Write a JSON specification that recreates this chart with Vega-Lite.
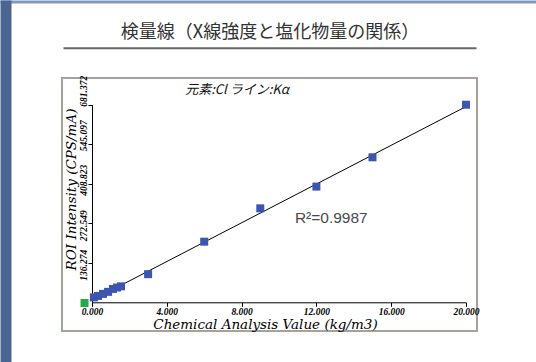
{
  "$schema": "https://vega.github.io/schema/vega-lite/v6.json",
  "autosize": "none",
  "width": 415,
  "height": 253,
  "padding": {"left": 62, "top": 78, "right": 59, "bottom": 31},
  "background": "white",
  "config": {
    "view": {"stroke": "#a6a29a", "strokeWidth": 2},
    "axis": {"grid": false}
  },
  "datasets": {
    "standards": [
      {"conc": 0.1, "intensity": 17},
      {"conc": 0.32, "intensity": 22},
      {"conc": 0.59, "intensity": 29},
      {"conc": 0.86, "intensity": 36},
      {"conc": 1.12, "intensity": 46},
      {"conc": 1.34, "intensity": 51},
      {"conc": 1.55, "intensity": 55},
      {"conc": 3, "intensity": 97},
      {"conc": 6, "intensity": 209},
      {"conc": 9, "intensity": 324},
      {"conc": 12, "intensity": 399},
      {"conc": 15, "intensity": 500},
      {"conc": 20, "intensity": 681.372}
    ],
    "blank": [
      {"conc": -0.4, "intensity": -2.5}
    ],
    "fit": [
      {"conc": 0, "intensity": 7},
      {"conc": 20, "intensity": 675}
    ],
    "fitNote": [
      {"conc": 10.85, "intensity": 291, "label": "R²=0.9987"}
    ]
  },
  "layer": [
    {
      "layer": [
        {
          "data": {"name": "fit"},
          "mark": {"type": "line", "color": "#000000", "strokeWidth": 1},
          "encoding": {
            "x": {
              "field": "conc",
              "type": "quantitative",
              "scale": {"domain": [0, 20], "range": [30, 404], "nice": false, "zero": false},
              "axis": {
                "orient": "bottom",
                "offset": -28.7,
                "values": [0, 4, 8, 12, 16, 20],
                "format": ".3f",
                "domainColor": "#000000",
                "domainWidth": 1,
                "tickColor": "#000000",
                "tickSize": 4,
                "labelFlush": false,
                "labelOverlap": false,
                "labelFont": "Liberation Serif",
                "labelFontSize": 9.5,
                "labelFontStyle": "italic",
                "labelFontWeight": "bold",
                "labelColor": "#000000",
                "labelPadding": 0,
                "title": "Chemical Analysis Value (kg/m3)",
                "titleFont": "DejaVu Serif",
                "titleFontSize": 13.5,
                "titleFontStyle": "italic",
                "titleFontWeight": "normal",
                "titleColor": "#000000",
                "titleX": 203,
                "titleY": 22.5,
                "titleAlign": "center",
                "titleBaseline": "middle"
              }
            },
            "y": {
              "field": "intensity",
              "type": "quantitative",
              "scale": {"domain": [0, 681.372], "range": [224.3, 26.7], "nice": false, "zero": false},
              "axis": {
                "orient": "left",
                "offset": -30,
                "values": [136.274, 272.549, 408.823, 545.097, 681.372],
                "format": ".3f",
                "domainColor": "#000000",
                "domainWidth": 1,
                "tickColor": "#000000",
                "tickSize": 4,
                "labelFlush": false,
                "labelOverlap": false,
                "labelAngle": -90,
                "labelAlign": "center",
                "labelBaseline": "alphabetic",
                "labelOffset": {
                  "condition": [
                    {"test": "datum.value > 600", "value": -14},
                    {"test": "datum.value > 500", "value": -9},
                    {"test": "datum.value > 400", "value": -4}
                  ],
                  "value": 2
                },
                "labelFont": "Liberation Serif",
                "labelFontSize": 9.5,
                "labelFontStyle": "italic",
                "labelFontWeight": "bold",
                "labelColor": "#000000",
                "labelPadding": 2,
                "title": "ROI Intensity (CPS/mA)",
                "titleFont": "DejaVu Serif",
                "titleFontSize": 13.5,
                "titleFontStyle": "italic",
                "titleFontWeight": "normal",
                "titleColor": "#000000",
                "titleAngle": -90,
                "titleX": -21,
                "titleY": 111,
                "titleAlign": "center",
                "titleBaseline": "middle"
              }
            }
          }
        },
        {
          "data": {"name": "standards"},
          "mark": {"type": "square", "size": 64, "opacity": 1, "color": "#3c56ae"},
          "encoding": {
            "x": {"field": "conc", "type": "quantitative"},
            "y": {"field": "intensity", "type": "quantitative"}
          }
        },
        {
          "data": {"name": "blank"},
          "mark": {"type": "square", "size": 64, "opacity": 1, "color": "#22ad4a"},
          "encoding": {
            "x": {"field": "conc", "type": "quantitative"},
            "y": {"field": "intensity", "type": "quantitative"}
          }
        },
        {
          "data": {"name": "fitNote"},
          "mark": {"type": "text", "align": "left", "baseline": "middle", "font": "Liberation Sans", "fontSize": 15.5, "color": "#4a4a4a"},
          "encoding": {
            "x": {"field": "conc", "type": "quantitative"},
            "y": {"field": "intensity", "type": "quantitative"},
            "text": {"field": "label"}
          }
        }
      ]
    },
    {
      "data": {"values": []},
      "mark": {"type": "point", "opacity": 0},
      "encoding": {
        "x": {
          "field": "u",
          "type": "quantitative",
          "scale": {"domain": [0, 1], "range": [1, 414]},
          "axis": {
            "orient": "top",
            "offset": 30.3,
            "domainColor": "#666666",
            "domainWidth": 2,
            "ticks": false,
            "labels": false,
            "grid": false,
            "title": "検量線（X線強度と塩化物量の関係）",
            "titleFont": "Noto Sans CJK JP",
            "titleFontSize": 18,
            "titleFontWeight": "normal",
            "titleColor": "#333333",
            "titlePadding": 6
          }
        },
        "y": {
          "field": "v",
          "type": "quantitative",
          "scale": {"domain": [0, 1], "range": [284, -78]},
          "axis": {
            "orient": "left",
            "offset": 56.5,
            "domainColor": "#4b6591",
            "domainWidth": 11,
            "ticks": false,
            "labels": false,
            "grid": false,
            "title": "元素:Cl ライン:Kα",
            "titleAngle": 0,
            "titleX": 231,
            "titleY": 11,
            "titleAlign": "center",
            "titleBaseline": "middle",
            "titleFont": "Noto Sans CJK JP",
            "titleFontSize": 13,
            "titleFontStyle": "italic",
            "titleFontWeight": "normal",
            "titleColor": "#111111"
          }
        }
      }
    },
    {
      "data": {"values": []},
      "mark": {"type": "point", "opacity": 0},
      "encoding": {
        "x": {
          "field": "w",
          "type": "quantitative",
          "scale": {"domain": [0, 1], "range": [-62, 474]},
          "axis": {
            "orient": "top",
            "offset": 76.5,
            "domainColor": "#8099c3",
            "domainWidth": 3,
            "ticks": false,
            "labels": false,
            "grid": false,
            "title": null
          }
        }
      }
    }
  ],
  "resolve": {
    "scale": {"x": "independent", "y": "independent"},
    "axis": {"x": "independent", "y": "independent"}
  }
}
